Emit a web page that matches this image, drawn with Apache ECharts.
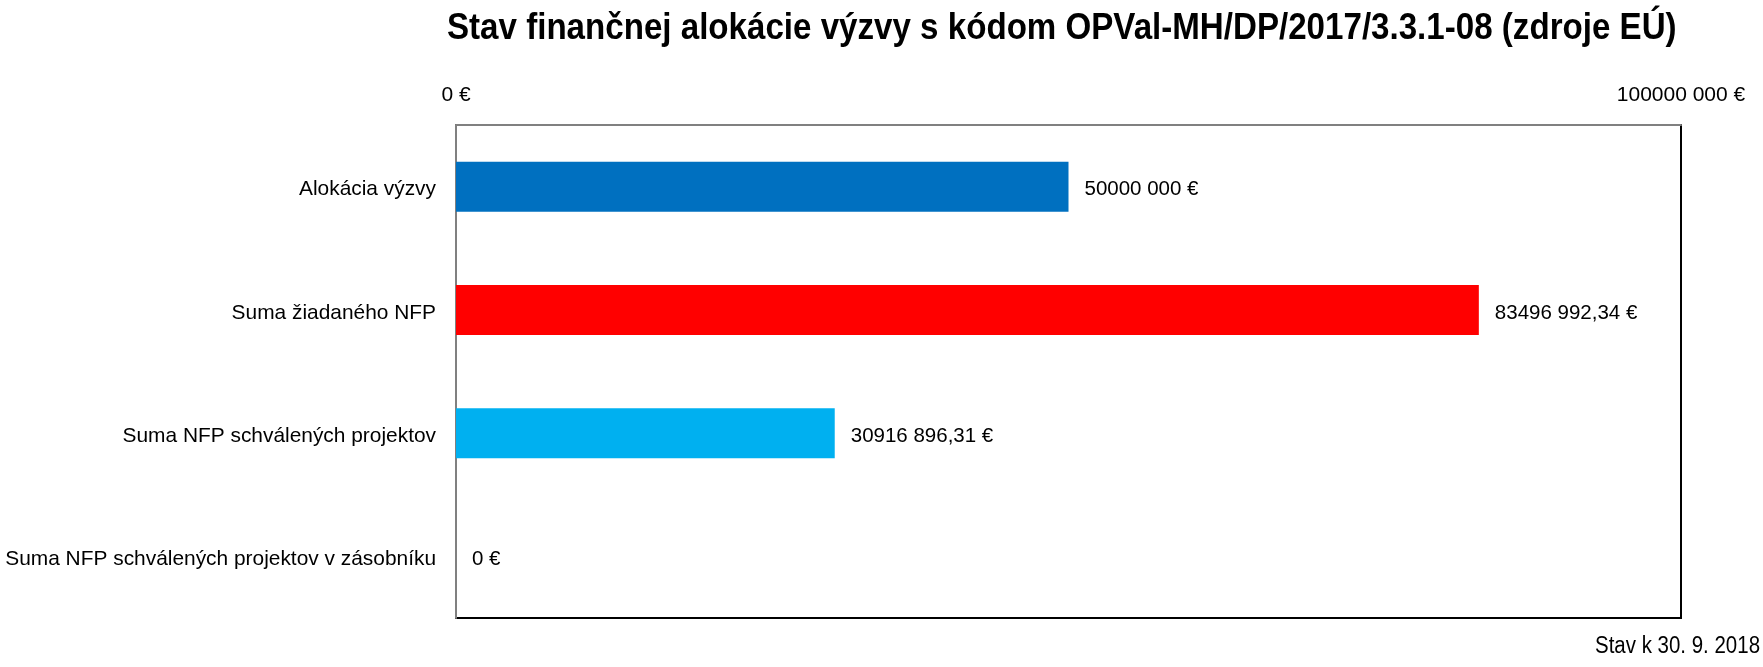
<!DOCTYPE html>
<html><head><meta charset="utf-8">
<script src="https://cdn.jsdelivr.net/npm/echarts@6/dist/echarts.min.js"></script>
<style>html,body{margin:0;padding:0;background:#fff}#c{width:1763px;height:667px}</style>
</head><body><div id="c"></div>
<script>
const titleText = 'Stav finančnej alokácie výzvy s kódom OPVal-MH/DP/2017/3.3.1-08 (zdroje EÚ)';
const noteText = 'Stav k 30. 9. 2018';
const categories = ['Alokácia výzvy', 'Suma žiadaného NFP', 'Suma NFP schválených projektov', 'Suma NFP schválených projektov v zásobníku'];
const values = [50000000, 83496992.34, 30916896.31, 0];
const barColors = ['#0070C0', '#FF0000', '#00B0F0', '#ED7D31'];
const axisMin = 0;
const axisMax = 100000000;

function fmtEur(v) {
  const neg = v < 0; v = Math.abs(v);
  const hasDec = Math.round(v * 100) % 100 !== 0;
  let intPart = Math.floor(hasDec ? v : Math.round(v)).toString();
  let s = intPart.length > 3 ? intPart.slice(0, -3) + ' ' + intPart.slice(-3) : intPart;
  if (hasDec) s += ',' + String(Math.round(v * 100) % 100).padStart(2, '0');
  return (neg ? '-' : '') + s + ' €';
}

const FONT = '"Liberation Sans", Arial, sans-serif';
const chart = echarts.init(document.getElementById('c'), null, {renderer: 'canvas'});
chart.setOption({
  animation: false,
  backgroundColor: '#fff',
  graphic: [{
    type: 'text', x: 447, y: 11, scaleX: 0.92,
    style: {text: titleText, x: 0, y: 0, textAlign: 'left', textVerticalAlign: 'top',
      fontFamily: FONT, fontWeight: 'bold', fontSize: 36, fill: '#000'}
  }, {
    type: 'text', x: 1595, y: 635, scaleX: 0.89,
    style: {text: noteText, x: 0, y: 0, textAlign: 'left', textVerticalAlign: 'top',
      fontFamily: FONT, fontSize: 23, fill: '#000'}
  }],
  grid: {left: 456, right: 82, top: 125, bottom: 49, show: true, borderColor: '#000', borderWidth: 2},
  xAxis: {
    type: 'value', position: 'top', min: axisMin, max: axisMax, interval: axisMax - axisMin,
    axisLine: {show: true, lineStyle: {color: '#808080', width: 2}},
    axisTick: {show: false}, splitLine: {show: false},
    axisLabel: {formatter: fmtEur, fontFamily: FONT, fontSize: 21, color: '#000', margin: 19}
  },
  yAxis: {
    type: 'category', inverse: true, data: categories,
    axisLine: {show: true, lineStyle: {color: '#808080', width: 2}},
    axisTick: {show: false},
    axisLabel: {
      fontFamily: FONT, fontSize: 20.9, color: '#000', margin: 20,
      formatter: v => '{c|' + v + '}',
      rich: {c: {fontFamily: FONT, fontSize: 20.9, color: '#000', padding: [6, 0, 0, 0]}}
    }
  },
  series: [{
    type: 'bar', barWidth: 50,
    data: values.map((v, i) => ({value: v, itemStyle: {color: barColors[i]}})),
    label: {show: true, position: 'right', distance: 16, offset: [0, 3], formatter: p => fmtEur(p.value),
      fontFamily: FONT, fontSize: 20.5, color: '#000'}
  }]
});
</script></body></html>
